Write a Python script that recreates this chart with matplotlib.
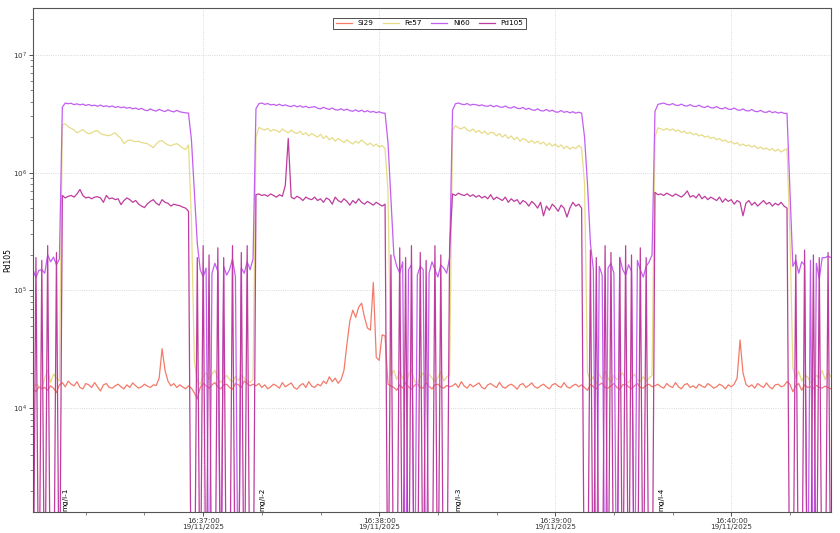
import matplotlib
matplotlib.use('Agg')
import matplotlib.pyplot as plt
import matplotlib.dates as mdates
import numpy as np

# one sample per second, counts in thousands (0.1 = below detection / off-scale)
START = '2025-11-19T16:36:02'
END = '2025-11-19T16:40:34'

si29 = [
    14.5, 13.8, 15.2, 14.6, 15.0, 14.2, 15.5, 14.8, 13.6, 15.8,
    16.5, 15.2, 17.0, 16.0, 15.5, 16.8, 15.0, 14.6, 16.2, 15.8,
    15.0, 16.5, 15.2, 14.0, 15.8, 16.2, 15.0, 14.8, 15.5, 16.0,
    15.2, 14.6, 15.8, 15.0, 16.4, 15.5, 14.8, 15.2, 16.0, 15.4,
    15.0, 15.8, 15.6, 18.0, 32.0, 21.0, 17.0, 15.5, 16.2, 15.0,
    15.8, 15.2, 14.6, 15.5,
    14.8, 13.5, 12.0, 15.0, 16.2, 15.5, 14.8, 15.8, 16.5, 15.2,
    14.6, 15.8, 16.0, 15.0, 14.5, 16.2, 15.8, 15.0, 17.0, 16.2, 15.5, 16.0,
    15.5, 16.2, 15.0, 15.8, 14.6, 15.2, 16.0, 15.5, 14.8, 16.5,
    15.2, 15.8, 16.4, 15.0, 14.5, 15.6, 16.2, 15.0, 16.8, 15.4,
    15.0, 16.0, 15.5, 17.0, 16.2, 18.5, 16.8, 18.0, 16.3, 17.5,
    21.0, 35.0, 55.0, 68.0, 59.0, 72.0, 78.0, 59.0, 48.0, 46.0,
    117.0, 27.0, 25.5, 42.0, 41.0,
    16.0, 15.5, 15.0, 14.2, 15.8, 14.8, 16.4, 15.2, 14.5, 15.6,
    16.2, 15.0, 14.8, 16.5, 15.3, 14.6, 15.8, 16.0, 15.2, 14.8, 15.6, 15.2,
    15.5, 16.2, 15.0, 16.8, 15.4, 14.8, 16.0, 15.2, 15.8, 16.4,
    15.0, 14.6, 15.8, 16.2, 15.5, 15.0, 16.6, 15.2, 14.8, 15.6,
    16.0, 15.4, 14.5, 15.8, 16.2, 15.0, 15.6, 16.4, 15.2, 14.8,
    15.5, 16.0, 15.2, 14.6, 15.8, 16.2, 15.4, 15.0, 16.5, 15.2,
    14.8, 15.6, 16.0, 15.2, 15.8,
    15.0, 14.2, 16.0, 15.2, 14.6, 15.8, 16.4, 15.0, 14.8, 15.5,
    16.2, 15.0, 14.5, 15.8, 16.0, 15.2, 14.6, 15.5, 16.2, 15.0,
    14.8, 15.6, 16.0, 15.2,
    15.5, 16.0, 15.2, 14.8, 16.2, 15.4, 15.0, 16.5, 15.2, 14.6,
    15.8, 16.2, 15.0, 15.5, 14.8, 16.0, 15.4, 15.0, 16.2, 15.6,
    14.8, 15.2, 16.0, 15.5, 14.6, 15.8, 15.2, 16.0, 18.0, 38.0,
    20.0, 16.0, 15.2, 15.8, 14.8, 16.2, 15.5, 15.0, 16.4, 15.2,
    14.6, 15.8, 16.0, 15.2, 15.5, 16.8,
    16.0, 13.8, 15.5, 16.2, 14.2, 15.8, 15.0, 15.2, 14.8, 15.6,
    15.0, 14.8, 15.4, 15.0, 14.6,
]

fe57 = [
    15.0, 16.0, 15.5, 14.8, 18.0, 21.0, 16.5, 19.5, 18.0, 17.0,
    2550, 2600, 2450, 2380, 2300, 2180, 2250, 2320, 2200, 2140,
    2180, 2250, 2270, 2150, 2100, 2080, 2060, 2120, 2180, 2050,
    1950, 1760, 1850, 1900, 1860, 1830, 1850, 1800, 1780, 1760,
    1700, 1630, 1750, 1850, 1870, 1780, 1720, 1690, 1740, 1760,
    1700, 1620, 1570, 1720,
    400, 25.0, 17.0, 16.0, 18.5, 20.0, 17.5, 19.5, 21.0, 18.0,
    16.5, 18.0, 19.0, 17.5, 16.8, 18.5, 17.2, 19.0, 18.0, 17.0, 16.5, 17.5,
    2000, 2420, 2350, 2300, 2380, 2250, 2320, 2280, 2200, 2350,
    2250, 2180, 2300, 2200, 2150, 2250, 2100, 2180, 2050, 2150,
    2080, 2000, 2120, 1950, 2050, 1900, 1980, 1850, 1950, 1880,
    1800, 1900, 1820, 1750, 1850, 1780, 1900, 1800, 1720, 1780,
    1680, 1750, 1650, 1700, 1600,
    700, 19.0, 21.0, 17.5, 20.5, 18.0, 16.5, 19.0, 21.5, 17.0,
    16.0, 18.5, 20.0, 17.2, 19.5, 18.0, 16.8, 18.2, 20.5, 17.0, 18.5, 19.0,
    2300, 2500, 2400, 2350, 2450, 2300, 2250, 2350, 2200, 2280,
    2150, 2250, 2100, 2200, 2180, 2050, 2150, 2000, 2100, 1950,
    2050, 1900, 2000, 1850, 1950, 1900, 1800, 1880, 1780, 1850,
    1750, 1820, 1700, 1780, 1680, 1750, 1650, 1720, 1600, 1680,
    1580, 1650, 1600, 1700, 1620,
    800, 20.0, 17.0, 18.5, 16.0, 19.5, 17.5, 20.5, 18.0, 16.5,
    19.0, 17.5, 18.5, 20.0, 17.0, 16.5, 18.0, 19.5, 17.5, 16.8,
    18.5, 17.0, 18.0, 19.0,
    2000, 2400, 2350, 2300, 2380, 2280, 2350, 2250, 2300, 2200,
    2250, 2150, 2200, 2100, 2150, 2050, 2100, 2000, 2050, 1950,
    2000, 1900, 1950, 1850, 1900, 1800, 1850, 1750, 1800, 1700,
    1750, 1680, 1720, 1650, 1700, 1600, 1650, 1580, 1620, 1550,
    1600, 1520, 1580, 1500, 1550, 1600,
    300, 22.0, 18.0, 20.5, 17.0, 19.0, 18.5, 16.5, 17.5, 19.0,
    18.0, 21.0, 17.5, 20.0, 18.5,
]

ni60 = [
    150, 128, 148, 150, 140, 200, 175, 192, 165, 185,
    3600, 3900, 3850, 3880, 3780, 3840, 3760, 3820, 3720, 3790,
    3700, 3740, 3660, 3750, 3640, 3700, 3620, 3680, 3580, 3640,
    3560, 3610, 3520, 3580, 3480, 3540, 3440, 3520, 3400, 3360,
    3480, 3380, 3330, 3450, 3360, 3300, 3420, 3330, 3280, 3380,
    3290, 3250, 3220, 3200,
    1900, 700, 250, 150, 130, 155, 0.1, 140, 170, 145,
    0.1, 160, 135, 150, 185, 130, 0.1, 155, 140, 175, 150, 185,
    3500, 3850, 3900, 3800, 3860, 3760, 3800, 3720, 3810, 3700,
    3760, 3680, 3640, 3730, 3620, 3700, 3590, 3660, 3560, 3600,
    3640, 3520, 3480, 3590, 3500, 3440, 3540, 3420, 3400, 3490,
    3380, 3460, 3360, 3320, 3420, 3300, 3390, 3280, 3360, 3260,
    3310, 3230, 3290, 3210, 3200,
    1800, 600, 200, 160, 140, 175, 0.1, 150, 165, 0.1,
    135, 160, 150, 0.1, 140, 175, 150, 130, 165, 155, 140, 190,
    3400, 3850, 3900, 3820, 3780, 3860, 3740, 3800, 3780, 3700,
    3760, 3680, 3660, 3740, 3620, 3710, 3620, 3580, 3680, 3560,
    3540, 3640, 3520, 3490, 3580, 3440, 3520, 3420, 3380, 3480,
    3360, 3340, 3440, 3320, 3390, 3280, 3260, 3370, 3250, 3310,
    3220, 3290, 3200, 3260, 3200,
    2000, 800, 250, 150, 0.1, 160, 135, 0.1, 155, 170,
    140, 0.1, 190, 150, 135, 165, 145, 0.1, 180, 150,
    130, 160, 175, 200,
    3300, 3800, 3850, 3900, 3800, 3760, 3860, 3740, 3720, 3820,
    3700, 3680, 3780, 3660, 3640, 3740, 3620, 3580, 3680, 3560,
    3540, 3640, 3520, 3480, 3570, 3460, 3440, 3540, 3420, 3380,
    3480, 3360, 3340, 3440, 3320, 3290, 3380, 3270, 3250, 3340,
    3230, 3290, 3200, 3260, 3190, 3180,
    700, 160, 180, 140, 175, 165, 0.1, 180, 0.1, 170,
    125, 190, 190, 195, 190,
]

pd105 = [
    0.1, 190, 0.1, 180, 0.1, 240, 0.1, 0.1, 210, 0.1,
    640, 610, 630, 640, 620, 660, 720, 640, 610, 620,
    600, 620, 625, 610, 560, 640, 600, 610, 590, 600,
    535, 580, 610, 590, 560, 580, 540, 520, 505, 545,
    570, 590, 550, 530, 590, 560, 550, 520, 540, 530,
    525, 510, 500, 470,
    0.1, 0.1, 190, 0.1, 240, 0.1, 200, 0.1, 0.1, 230,
    0.1, 190, 0.1, 0.1, 240, 0.1, 0.1, 210, 0.1, 240, 0.1, 0.1,
    650, 660, 640, 650, 630, 660, 640, 620, 650, 630,
    780, 1950, 620, 600, 630, 610, 580, 620, 600, 590,
    620, 580, 600, 560, 610, 590, 540, 620, 580, 560,
    600, 570, 530, 580, 550, 600, 560, 540, 570, 550,
    530, 560, 540, 520, 540,
    0.1, 200, 0.1, 0.1, 230, 0.1, 190, 0.1, 240, 0.1,
    0.1, 210, 0.1, 180, 0.1, 0.1, 240, 0.1, 200, 0.1, 0.1, 230,
    660, 640, 670, 650, 640, 660, 630, 650, 620, 640,
    610, 630, 600, 650, 590, 620, 600, 580, 620, 560,
    600, 570, 590, 540, 580, 560, 520, 570, 540, 500,
    560, 430, 520, 480, 540, 510, 470, 530, 500, 420,
    500, 560, 520, 540, 500,
    0.1, 0.1, 220, 0.1, 190, 0.1, 0.1, 240, 0.1, 210,
    0.1, 0.1, 190, 0.1, 240, 0.1, 200, 0.1, 0.1, 230,
    0.1, 190, 0.1, 0.1,
    680, 650, 660, 640, 670, 650, 630, 660, 640, 620,
    650, 700, 620, 640, 610, 660, 600, 630, 590, 620,
    600, 580, 620, 560, 600, 570, 590, 540, 580, 560,
    430, 550, 580, 530, 560, 520, 550, 580, 540, 560,
    520, 550, 530, 560, 520, 500,
    0.1, 0.1, 200, 0.1, 0.1, 220, 0.1, 0.1, 200, 0.1,
    190, 0.1, 0.1, 210, 0.1,
]

series = {
    'Si29': si29,
    'Fe57': fe57,
    'Ni60': ni60,
    'Pd105': pd105,
}
colors = {
    'Si29': '#f47a6a',
    'Fe57': '#e6dc88',
    'Ni60': '#c25ef0',
    'Pd105': '#be3c9e',
}

# sample labels written at the start of each standard
marker_secs = [10, 77, 144, 213]
marker_labels = ['mg/l-1', 'mg/l-2', 'mg/l-3', 'mg/l-4']

t0 = np.datetime64(START)

fig = plt.figure(figsize=(8.4, 5.33), dpi=100)
ax = fig.add_axes([33 / 840, 1 - 512 / 533, 798 / 840, 504 / 533])

for name, vals in series.items():
    y = np.asarray(vals, dtype=float) * 1e3
    t = t0 + np.arange(len(y)).astype('timedelta64[s]')
    ax.plot(t, y, color=colors[name], lw=0.9, label=name)

ax.set_yscale('log')
ax.set_ylim(1315, 2.5e7)
ax.set_xlim(t0, np.datetime64(END))

for s, lab in zip(marker_secs, marker_labels):
    ax.text(t0 + np.timedelta64(s, 's'), 1330, lab, rotation=90,
            fontsize=5.2, ha='left', va='bottom', clip_on=True)

ax.xaxis.set_major_locator(mdates.MinuteLocator())
ax.xaxis.set_minor_locator(mdates.SecondLocator(bysecond=[20, 40]))
ax.xaxis.set_major_formatter(mdates.DateFormatter('%H:%M:%S\n%d/%m/%Y'))

ax.tick_params(axis='both', which='major', labelsize=5.2, length=3,
               width=0.6, colors='#333333', pad=1.5)
ax.tick_params(axis='both', which='minor', length=2, width=0.5,
               colors='#555555')
for lbl in ax.get_xticklabels():
    lbl.set_linespacing(1.0)
ax.grid(True, which='major', linestyle=':', linewidth=0.6, color='#cccccc')

for sp in ax.spines.values():
    sp.set_color('#555555')
    sp.set_linewidth(0.8)

ax.set_ylabel('Pd105', fontsize=5.5)
ax.yaxis.set_label_coords(-0.026, 0.5)

leg = ax.legend(loc='upper center', bbox_to_anchor=(0.497, 0.988), ncol=4,
                fontsize=5.2, frameon=True, fancybox=False,
                edgecolor='#222222', handlelength=2.2, columnspacing=1.3,
                handletextpad=0.8, borderpad=0.35)
leg.get_frame().set_linewidth(0.7)

fig.savefig('out.png', dpi=100)
